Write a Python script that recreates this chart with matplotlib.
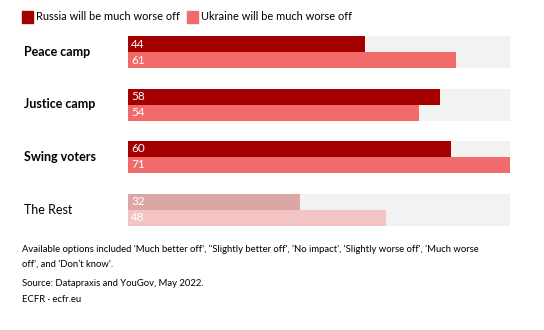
import matplotlib
matplotlib.use("Agg")
import matplotlib.pyplot as plt
from matplotlib.patches import Rectangle

categories = ["Peace camp", "Justice camp", "Swing voters", "The Rest"]
russia = [44, 58, 60, 32]
ukraine = [61, 54, 71, 48]
series_names = ["Russia will be much worse off", "Ukraine will be much worse off"]
bold = [True, True, True, False]

c_rus = "#A50000"
c_ukr = "#F26B6B"
c_rus_faded = "#DBA6A6"
c_ukr_faded = "#F4C4C4"
c_bg = "#F2F2F2"

plt.rcParams['font.family'] = ['Lato', 'DejaVu Sans']

W, H = 544, 330
fig = plt.figure(figsize=(W / 100, H / 100), dpi=100)

x0, x1 = 128, 510
y_top, y_bot = 36, 226
ax = fig.add_axes([x0 / W, 1 - y_bot / H, (x1 - x0) / W, (y_bot - y_top) / H])
pitch = 52.5
bh = 16
ax.set_ylim(y_bot, y_top)
xmax = max(max(russia), max(ukraine))
ax.set_xlim(0, xmax)
ax.axis("off")

for i, cat in enumerate(categories):
    top = y_top + pitch * i
    yr = top + bh / 2
    yu = top + bh * 1.5
    ax.barh([yr, yu], [xmax, xmax], height=bh, color=c_bg, linewidth=0)
    cr = c_rus if i < 3 else c_rus_faded
    cu = c_ukr if i < 3 else c_ukr_faded
    ax.barh(yr, russia[i], height=bh, color=cr, linewidth=0)
    ax.barh(yu, ukraine[i], height=bh, color=cu, linewidth=0)
    ax.text(0.6, yr, str(russia[i]), color="white", fontsize=8.5, va="center", ha="left")
    ax.text(0.6, yu, str(ukraine[i]), color="white", fontsize=8.5, va="center", ha="left")
    fig.text(24 / W, 1 - (top + bh) / H, cat, fontsize=9,
             fontweight="bold" if bold[i] else "normal", va="center", ha="left")

# legend
fig.patches.append(Rectangle((22 / W, 1 - 23 / H), 11 / W, 12 / H, color=c_rus,
                             transform=fig.transFigure))
fig.text(36 / W, 1 - 17 / H, series_names[0], fontsize=7.9, va="center", ha="left")
fig.patches.append(Rectangle((187 / W, 1 - 23 / H), 11 / W, 12 / H, color=c_ukr,
                             transform=fig.transFigure))
fig.text(201 / W, 1 - 17 / H, series_names[1], fontsize=7.9, va="center", ha="left")

notes = [
    ("Available options included 'Much better off', \"Slightly better off', 'No impact', 'Slightly worse off', 'Much worse", 249),
    ("off', and 'Don\u2019t know'.", 264),
    ("Source: Datapraxis and YouGov, May 2022.", 284),
    ("ECFR \u00b7 ecfr.eu", 299),
]
for t, y in notes:
    fig.text(22 / W, 1 - y / H, t, fontsize=6.85, va="center", ha="left")

fig.savefig("out.png", dpi=100, facecolor="white")
